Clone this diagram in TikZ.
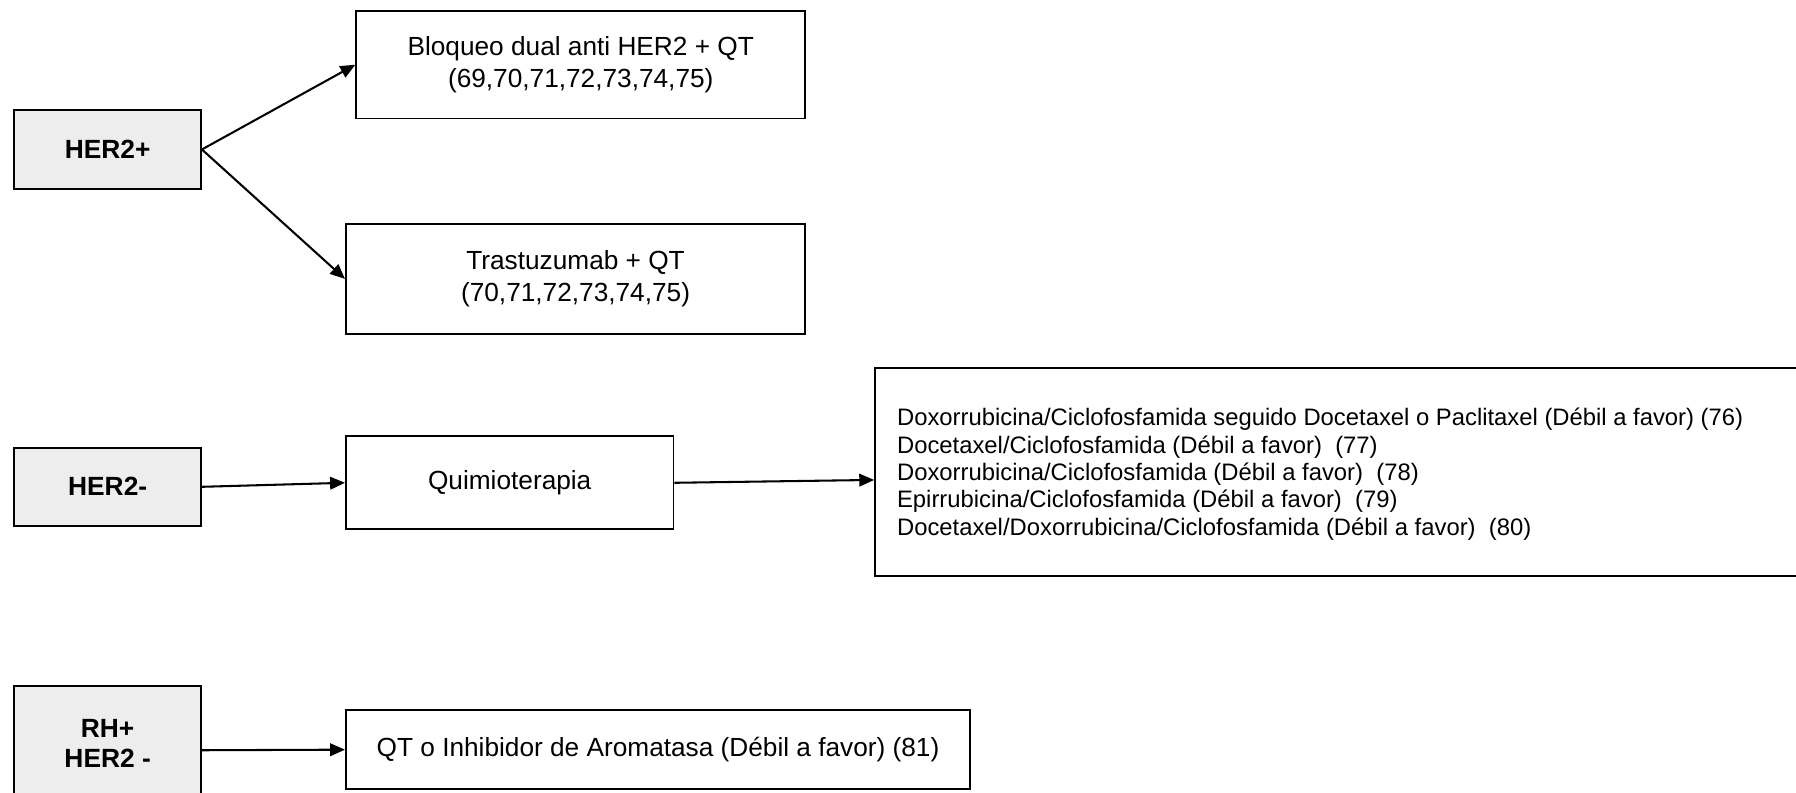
\documentclass[tikz,border=0pt]{standalone}
\usepackage{fontspec}
\setmainfont{Liberation Sans}
\usetikzlibrary{arrows.meta}
\begin{document}
\begin{tikzpicture}[x=1pt,y=-1pt,
 box/.style={draw,line width=1.6pt,inner sep=0pt,align=center,font=\fontsize{22.9}{28}\selectfont},
 gbox/.style={box,fill=black!7,font=\fontsize{23}{26.5}\selectfont\bfseries},
 txt/.style={inner sep=0pt,align=left,font=\fontsize{20.8}{24}\selectfont},
 arr/.style={line width=1.8pt,-{Triangle[length=13pt,width=11pt]}}]
\useasboundingbox (0,0) rectangle (1568,692.3);
\clip (0,0) rectangle (1568,692.3);
\node[gbox,minimum width=163pt,minimum height=69pt] (her2p) at (94,130.5) {HER2+};
\node[gbox,minimum width=163pt,minimum height=68pt] (her2m) at (94,425) {HER2-};
\node[gbox,minimum width=163pt,minimum height=100pt] (rh) at (94,649) {RH+\\HER2 -};
\node[box,minimum width=392pt,minimum height=94pt] (bloq) at (507,56.5) {Bloqueo dual anti HER2 + QT\\(69,70,71,72,73,74,75)};
\node[box,minimum width=401pt,minimum height=96pt] (tras) at (502.5,243.5) {Trastuzumab + QT\\(70,71,72,73,74,75)};
\node[box,minimum width=286pt,minimum height=81pt] (quim) at (445,421.5) {Quimioterapia};
\node[box,minimum width=1060pt,minimum height=182pt] (big) at (1294,412) {};
\node[txt,anchor=west] (list) at (783,414) {Doxorrubicina/Ciclofosfamida seguido Docetaxel o Paclitaxel (Débil a favor) (76)\\Docetaxel/Ciclofosfamida (Débil a favor)\ \ (77)\\Doxorrubicina/Ciclofosfamida (Débil a favor)\ \ (78)\\Epirrubicina/Ciclofosfamida (Débil a favor)\ \ (79)\\Docetaxel/Doxorrubicina/Ciclofosfamida (Débil a favor)\ \ (80)};
\node[box,minimum width=545pt,minimum height=69pt] (qt) at (574.5,654.5) {QT o Inhibidor de Aromatasa (Débil a favor) (81)};
\draw[arr] (her2p.east) -- (bloq.west);
\draw[arr] (her2p.east) -- (tras.west);
\draw[arr] (her2m.east) -- (quim.west);
\draw[arr] (quim.east) -- ([yshift=-7pt]big.west);
\draw[arr] ([yshift=-6pt]rh.east) -- (qt.west);
\end{tikzpicture}
\end{document}
